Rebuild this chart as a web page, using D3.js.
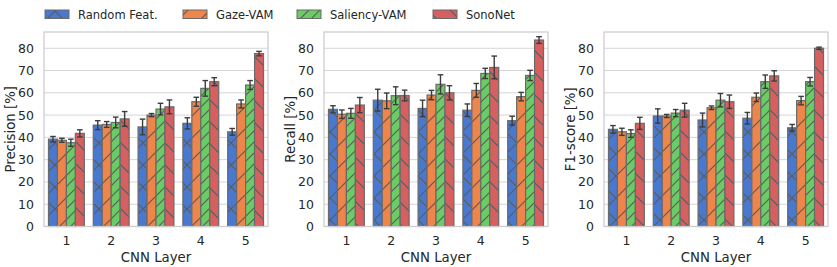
<!DOCTYPE html>
<html><head><meta charset="utf-8">
<script src="https://cdn.jsdelivr.net/npm/d3@7"></script>
<style>body{margin:0;background:#fff}svg{display:block}text{font-family:"DejaVu Sans",sans-serif;fill:#262626}</style>
</head><body><svg id="c" width="837" height="267"></svg>
<script>
const layers = ["1","2","3","4","5"];
const series = ["Random Feat.","Gaze-VAM","Saliency-VAM","SonoNet"];
const colors = ["#4878d0","#ee854a","#6acc64","#d65f5f"];
const hatches = ["x","/","//","\\"];
const yTicks = [0,10,20,30,40,50,60,70,80];
const metricNames = ["Precision [%]","Recall [%]","F1-score [%]"];
const xLabel = "CNN Layer";

// values[series][layer]
const precision = [
  [39.2,45.5,44.7,46.3,42.5],
  [38.7,45.8,50.0,56.0,55.0],
  [37.6,46.7,52.7,62.0,63.5],
  [41.8,48.3,53.7,65.0,77.6]
];
const precisionErr = [
  [1.2,2.0,3.5,2.5,1.5],
  [0.9,1.3,0.7,2.0,1.8],
  [1.6,2.4,2.6,3.5,2.0],
  [1.6,3.3,3.1,1.8,1.0]
];
const recall = [
  [52.6,56.7,53.0,52.2,47.5],
  [50.4,56.4,59.0,61.1,58.3],
  [50.8,58.7,63.8,68.7,67.8],
  [54.5,58.8,60.0,71.4,83.7]
];
const recallErr = [
  [1.6,4.9,3.7,2.8,2.0],
  [1.9,3.5,2.1,3.1,1.9],
  [2.2,4.0,4.3,2.3,2.3],
  [3.4,2.4,3.2,5.1,1.5]
];
const f1 = [
  [43.6,49.6,47.8,48.6,44.3],
  [42.5,49.6,53.3,58.0,56.5],
  [41.7,50.9,56.7,65.0,65.0],
  [46.3,52.2,56.0,67.6,80.0]
];
const f1Err = [
  [1.7,3.2,3.1,2.6,1.5],
  [1.6,0.7,0.8,1.9,1.9],
  [1.7,1.6,3.0,3.0,1.9],
  [2.7,3.1,3.0,2.3,0.5]
];
const metrics = [[precision,precisionErr],[recall,recallErr],[f1,f1Err]];

const svg = d3.select("#c");
const defs = svg.append("defs");
const hatchCol = "#5c5c5c";
series.forEach((s,i)=>{
  const h = hatches[i];
  const S = h==="//" ? 11 : 22;
  const p = defs.append("pattern").attr("id","h"+i).attr("patternUnits","userSpaceOnUse")
    .attr("width",S).attr("height",S);
  p.append("rect").attr("width",S).attr("height",S).attr("fill",colors[i]);
  const q = S/4;
  const fwd = `M0,${S} L${S},0 M${-q},${q} L${q},${-q} M${S-q},${S+q} L${S+q},${S-q}`;
  const bwd = `M0,0 L${S},${S} M${-q},${S-q} L${q},${S+q} M${S-q},${-q} L${S+q},${q}`;
  let d = h==="x" ? fwd+" "+bwd : (h==="\\" ? bwd : fwd);
  p.append("path").attr("d",d).attr("stroke",hatchCol).attr("stroke-width",1.2).attr("fill","none");
});

const yTop = 32, yBot = 226.5;
const lefts = [44,324,604], W = 224;
const y = d3.scaleLinear().domain([0,87.3]).range([yBot,yTop]);

lefts.forEach((L,m)=>{
  const [vals, errs] = metrics[m];
  const g = svg.append("g");
  const x = d3.scaleBand().domain(layers).range([L,L+W]).paddingInner(0.2).paddingOuter(0.1);
  const xs = d3.scaleBand().domain(series).range([0,x.bandwidth()]);
  g.selectAll(".grid").data(yTicks).join("line")
    .attr("x1",L).attr("x2",L+W).attr("y1",d=>y(d)).attr("y2",d=>y(d))
    .attr("stroke","#d5d5d5").attr("stroke-width",1);
  const ya = d3.axisLeft(y).tickValues(yTicks).tickSize(0).tickPadding(10);
  const yg = g.append("g").attr("transform",`translate(${L},0)`).call(ya);
  yg.select(".domain").remove();
  yg.selectAll("text").style("font-size","12.5px").attr("fill","#262626").style("font-family","DejaVu Sans");
  const xa = d3.axisBottom(x).tickSize(0).tickPadding(10);
  const xg = g.append("g").attr("transform",`translate(0,${yBot})`).call(xa);
  xg.select(".domain").remove();
  xg.selectAll("text").style("font-size","12.5px").attr("fill","#262626").style("font-family","DejaVu Sans");
  series.forEach((s,i)=>{
    const data = layers.map((l,j)=>({l, v:vals[i][j], e:errs[i][j]}));
    g.selectAll(".b"+i).data(data).join("rect")
      .attr("x",d=>x(d.l)+xs(s)).attr("width",xs.bandwidth())
      .attr("y",d=>y(d.v)).attr("height",d=>y(0)-y(d.v))
      .attr("fill",`url(#h${i})`).attr("stroke","#6a6a6a").attr("stroke-width",1.2);
    const cx = d=>x(d.l)+xs(s)+xs.bandwidth()/2;
    const eg = g.selectAll(".e"+i).data(data).join("g").attr("stroke","#3d3d3d").attr("stroke-width",1.4);
    eg.append("line").attr("x1",cx).attr("x2",cx).attr("y1",d=>y(d.v-d.e)).attr("y2",d=>y(d.v+d.e));
    eg.append("line").attr("x1",d=>cx(d)-2.8).attr("x2",d=>cx(d)+2.8).attr("y1",d=>y(d.v-d.e)).attr("y2",d=>y(d.v-d.e));
    eg.append("line").attr("x1",d=>cx(d)-2.8).attr("x2",d=>cx(d)+2.8).attr("y1",d=>y(d.v+d.e)).attr("y2",d=>y(d.v+d.e));
  });
  g.append("rect").attr("x",L).attr("y",yTop).attr("width",W).attr("height",yBot-yTop)
    .attr("fill","none").attr("stroke","#cccccc").attr("stroke-width",1.25);
  g.append("text").attr("transform",`translate(${L-34},${(yTop+yBot)/2}) rotate(-90)`)
    .attr("text-anchor","middle").attr("dy","0.35em").style("font-size","13.3px").text(metricNames[m]);
  g.append("text").attr("x",L+W/2).attr("y",262).attr("text-anchor","middle")
    .style("font-size","13.3px").text(xLabel);
});

const legX = [45,183,297,433];
series.forEach((s,i)=>{
  svg.append("rect").attr("x",legX[i]).attr("y",10).attr("width",24).attr("height",8.5)
    .attr("fill",`url(#h${i})`).attr("stroke","#6a6a6a").attr("stroke-width",1);
  svg.append("text").attr("x",legX[i]+33).attr("y",14.5).attr("dy","0.35em")
    .style("font-size","11.5px").text(s);
});
</script></body></html>
